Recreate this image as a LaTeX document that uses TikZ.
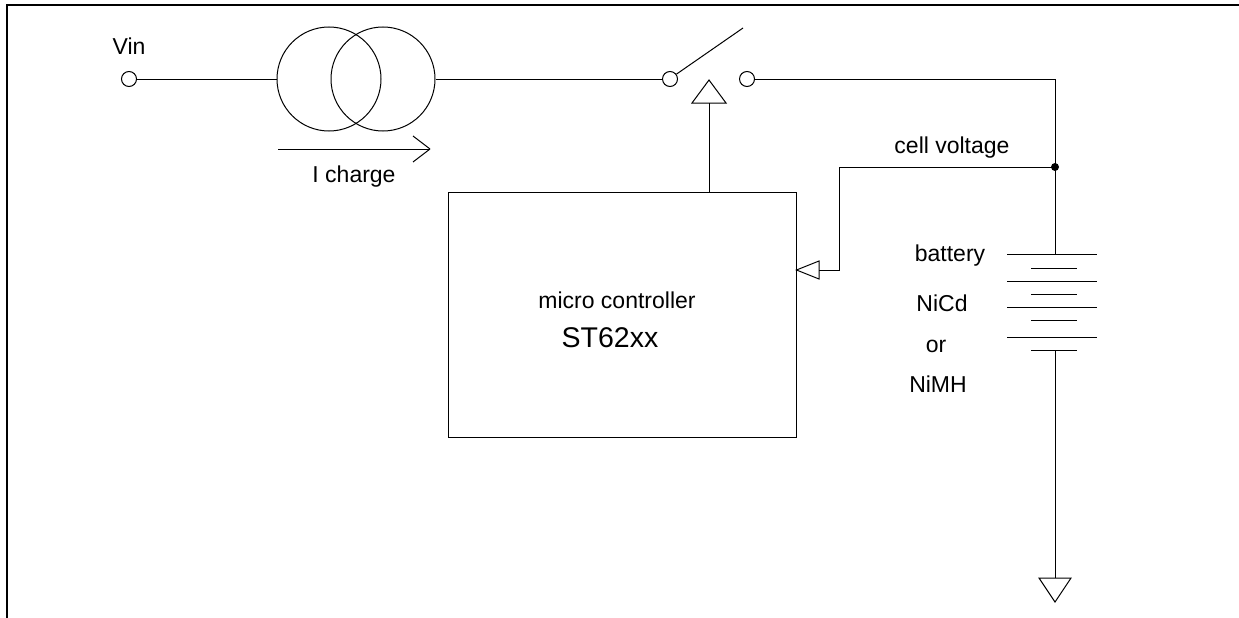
\documentclass[tikz,border=0pt]{standalone}
\usepackage{fontspec}
\setmainfont{Liberation Sans}

\tikzset{
    term/.style={circle, draw, minimum size=15pt, inner sep=0pt},
    srccirc/.style={circle, draw, minimum size=104pt, inner sep=0pt},
    lbl/.style={font=\fontsize{23}{27}\selectfont, inner sep=0pt, anchor=base},
}

\begin{document}
\begin{tikzpicture}[x=1pt, y=-1pt, line width=1pt]
    \useasboundingbox (0,0) rectangle (1239,618);

    % frame
    \draw[line width=2pt] (7,618) -- (7,5) -- (1239,5);

    % input and current source
    \node[term] (vin) at (129,79) {};
    \node[lbl] (vinlbl) at (129,55) {Vin};
    \node[srccirc] (srcA) at (329,79) {};
    \node[srccirc] (srcB) at (383,79) {};
    \draw (vin) -- (srcA);

    % charge current arrow
    \coordinate (ia) at (278,149);
    \coordinate (ib) at (430,149);
    \draw (ia) -- (ib);
    \draw (ib) -- ++(-17,-13);
    \draw (ib) -- ++(-17,13);
    \node[lbl] (ichg) at (354,182) {I charge};

    % switch
    \node[term] (swA) at (670,79) {};
    \node[term] (swB) at (747,79) {};
    \coordinate (blade) at (743,28);
    \draw (srcB) -- (swA);
    \draw (swA.37) -- (blade);
    \coordinate (act) at (709,80);
    \draw (act) -- (726,103) -- (692,103) -- cycle;

    % micro controller
    \node[draw, minimum width=348pt, minimum height=245pt] (mcu) at (622,314.5) {};
    \node[lbl] (mcutxt) at (617,308) {micro controller};
    \node[lbl, font=\fontsize{28.5}{32}\selectfont] (mcuname) at (610,347) {ST62xx};
    \draw (709,103) -- (mcu.north -| act);

    % battery line
    \coordinate (corner) at (1055,79);
    \coordinate (battop) at (1055,254);
    \coordinate (batbot) at (1055,350);
    \coordinate (gnd) at (1055,578);
    \draw (swB) -- (corner) -- (battop);
    \fill (1055,167) circle (4pt) coordinate (jct);
    \node[lbl] (celllbl) at (952,153) {cell voltage};

    \foreach \y in {254, 281, 307, 337} {
        \draw (1007,\y) -- (1097,\y);
    }
    \foreach \y in {268, 294, 320, 350} {
        \draw (1031,\y) -- (1077,\y);
    }
    \draw (batbot) -- (gnd);
    \draw (gnd) ++(-16,0) -- ++(32,0) -- (1055,602) -- cycle;

    \node[lbl] (battlbl) at (950,261) {battery};
    \node[lbl] (nicd) at (942,311) {NiCd};
    \node[lbl] (orlbl) at (936,352) {or};
    \node[lbl] (nimh) at (938,392) {NiMH};

    % cell voltage feedback
    \coordinate (fbin) at (819,270);
    \draw (jct) -| (839,270) -- (fbin);
    \draw (fbin) ++(0,-9) -- ++(0,18) -- (mcu.east |- fbin) -- cycle;
\end{tikzpicture}
\end{document}
